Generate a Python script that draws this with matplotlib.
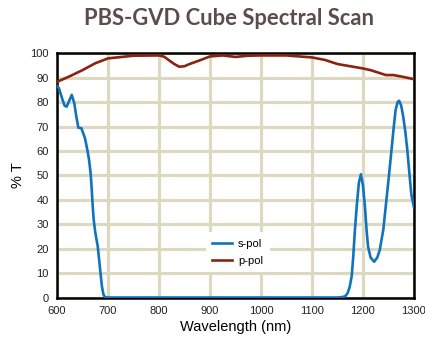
import matplotlib
matplotlib.use("Agg")
import matplotlib.pyplot as plt

# s-pol transmission
s_wl = [600, 604, 610, 615, 619, 624, 629, 634, 638, 642, 648, 655, 660, 663, 666,
        668, 670, 672, 675, 680, 684, 688, 691, 694, 698, 700, 800, 900, 1000, 1100,
        1150, 1161, 1166, 1170, 1174, 1178, 1181, 1184, 1188, 1192, 1196, 1200, 1204,
        1207, 1210, 1215, 1222, 1228, 1233, 1240, 1246, 1251, 1256, 1260, 1264, 1268,
        1271, 1275, 1279, 1283, 1287, 1291, 1295, 1300]
s_pol = [86.5, 85.6, 81.5, 78.5, 78.1, 80.5, 82.9, 79.5, 74, 69.5, 69.3, 65.2, 60, 56.3, 51,
         45, 38, 32, 27, 21, 13, 5, 1.5, 0.4, 0.2, 0.2, 0.2, 0.2, 0.2, 0.2,
         0.2, 0.4, 0.9, 2, 4.5, 9, 17, 27, 38, 47, 50.5, 46, 37,
         28, 21, 16.5, 14.8, 16.5, 19.6, 28, 40, 50, 60.4, 69, 76.7, 80,
         80.5, 78.5, 74, 68, 60.4, 51, 42, 37]

# p-pol transmission
p_wl = [600, 625, 650, 675, 700, 750, 800, 810, 820, 830, 840, 850, 860, 880,
        900, 925, 950, 975, 1000, 1050, 1100, 1125, 1150, 1175, 1200, 1215,
        1230, 1245, 1260, 1280, 1300]
p_pol = [88.2, 90.5, 93, 95.8, 97.8, 98.9, 99, 98.5, 97, 95.5, 94.4, 94.6, 95.5, 97,
         98.6, 99, 98.4, 98.9, 99, 99, 98.2, 97.2, 95.5, 94.6, 93.7, 93,
         92, 91, 91, 90.2, 89.3]

x_ticks = [600, 700, 800, 900, 1000, 1100, 1200, 1300]
y_ticks = [0, 10, 20, 30, 40, 50, 60, 70, 80, 90, 100]

plt.rcParams['font.family'] = ['Liberation Sans', 'DejaVu Sans']

fig = plt.figure(figsize=(4.25, 3.42), dpi=100)
ax = fig.add_axes([0.134, 0.1287, 0.84, 0.7163])

ax.plot(s_wl, s_pol, color='#1273bd', linewidth=1.9, label='s-pol', zorder=3,
        solid_joinstyle='round')
ax.plot(p_wl, p_pol, color='#8c2210', linewidth=1.9, label='p-pol', zorder=3,
        solid_joinstyle='round')

ax.set_xlim(600, 1300)
ax.set_ylim(0, 100)
ax.set_xticks(x_ticks)
ax.set_yticks(y_ticks)
ax.tick_params(length=0, labelsize=8, pad=6, colors='#222222')
ax.grid(True, color='#ddd8c0', linewidth=2.3, zorder=0)
ax.set_axisbelow(True)
for side in ['left', 'bottom', 'right', 'top']:
    ax.spines[side].set_color('black')
    ax.spines[side].set_linewidth(1.8)

ax.set_xlabel('Wavelength (nm)', fontsize=10.5, labelpad=3)
ax.set_ylabel('% T', fontsize=10.5, labelpad=4)

leg = ax.legend(loc='center', bbox_to_anchor=(0.506, 0.186), frameon=True,
                fontsize=8, handlelength=1.8, handletextpad=0.5,
                borderpad=0.6, labelspacing=0.6)
leg.get_frame().set_edgecolor('none')
leg.get_frame().set_facecolor('white')
leg.get_frame().set_alpha(1)

fig.text(0.539, 0.947, 'PBS-GVD Cube Spectral Scan', ha='center', va='center',
         fontsize=15.8, fontweight='bold', color='#5a4d4a', family=['Lato', 'DejaVu Sans'])

fig.savefig('out.png', dpi=100)
